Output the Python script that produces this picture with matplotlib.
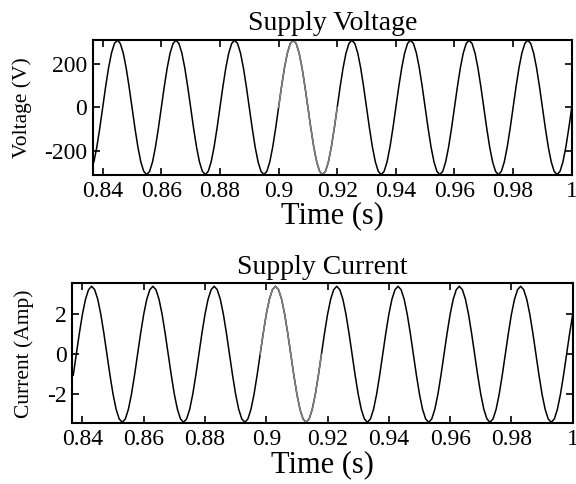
import numpy as np
import matplotlib
matplotlib.use("Agg")
import matplotlib.pyplot as plt

# sample times, 1 ms step from 0.837 s to 1.000 s
time = np.round(np.arange(837, 1001) / 1000.0, 3)

# supply voltage samples (V), one 50 Hz cycle per row
voltage = [
    -252, -183, -96, 0, 96, 183, 252, 296, 311, 296, 252, 183, 96, 0, -96, -183, -252, -296, -311, -296,
    -252, -183, -96, 0, 96, 183, 252, 296, 311, 296, 252, 183, 96, 0, -96, -183, -252, -296, -311, -296,
    -252, -183, -96, 0, 96, 183, 252, 296, 311, 296, 252, 183, 96, 0, -96, -183, -252, -296, -311, -296,
    -252, -183, -96, 0, 96, 183, 252, 296, 311, 296, 252, 183, 96, 0, -96, -183, -252, -296, -311, -296,
    -252, -183, -96, 0, 96, 183, 252, 296, 311, 296, 252, 183, 96, 0, -96, -183, -252, -296, -311, -296,
    -252, -183, -96, 0, 96, 183, 252, 296, 311, 296, 252, 183, 96, 0, -96, -183, -252, -296, -311, -296,
    -252, -183, -96, 0, 96, 183, 252, 296, 311, 296, 252, 183, 96, 0, -96, -183, -252, -296, -311, -296,
    -252, -183, -96, 0, 96, 183, 252, 296, 311, 296, 252, 183, 96, 0, -96, -183, -252, -296, -311, -296,
    -252, -183, -96, 0,
]

# supply current samples (A)
current = [
    -1.05, 0, 1.05, 2.0, 2.75, 3.23, 3.4, 3.23, 2.75, 2.0, 1.05, 0, -1.05, -2.0, -2.75, -3.23, -3.4, -3.23, -2.75, -2.0,
    -1.05, 0, 1.05, 2.0, 2.75, 3.23, 3.4, 3.23, 2.75, 2.0, 1.05, 0, -1.05, -2.0, -2.75, -3.23, -3.4, -3.23, -2.75, -2.0,
    -1.05, 0, 1.05, 2.0, 2.75, 3.23, 3.4, 3.23, 2.75, 2.0, 1.05, 0, -1.05, -2.0, -2.75, -3.23, -3.4, -3.23, -2.75, -2.0,
    -1.05, 0, 1.05, 2.0, 2.75, 3.23, 3.4, 3.23, 2.75, 2.0, 1.05, 0, -1.05, -2.0, -2.75, -3.23, -3.4, -3.23, -2.75, -2.0,
    -1.05, 0, 1.05, 2.0, 2.75, 3.23, 3.4, 3.23, 2.75, 2.0, 1.05, 0, -1.05, -2.0, -2.75, -3.23, -3.4, -3.23, -2.75, -2.0,
    -1.05, 0, 1.05, 2.0, 2.75, 3.23, 3.4, 3.23, 2.75, 2.0, 1.05, 0, -1.05, -2.0, -2.75, -3.23, -3.4, -3.23, -2.75, -2.0,
    -1.05, 0, 1.05, 2.0, 2.75, 3.23, 3.4, 3.23, 2.75, 2.0, 1.05, 0, -1.05, -2.0, -2.75, -3.23, -3.4, -3.23, -2.75, -2.0,
    -1.05, 0, 1.05, 2.0, 2.75, 3.23, 3.4, 3.23, 2.75, 2.0, 1.05, 0, -1.05, -2.0, -2.75, -3.23, -3.4, -3.23, -2.75, -2.0,
    -1.05, 0, 1.05, 2.0,
]

# one highlighted (grey) cycle in each panel
voltage_cycle = (0.900, 0.920)
current_cycle = (0.898, 0.918)

x_ticks = [0.84, 0.86, 0.88, 0.9, 0.92, 0.94, 0.96, 0.98, 1.0]
x_tick_labels = ["0.84", "0.86", "0.88", "0.9", "0.92", "0.94", "0.96", "0.98", "1"]
v_ticks = [-200, 0, 200]
i_ticks = [-2, 0, 2]

plt.rcParams["font.family"] = ["Liberation Serif", "DejaVu Serif"]
plt.rcParams["axes.unicode_minus"] = False

fig = plt.figure(figsize=(5.76, 4.84), dpi=100)
ax1 = fig.add_axes([0.161, 0.6384, 0.8316, 0.2789])
ax2 = fig.add_axes([0.125, 0.1254, 0.8693, 0.2893])


def draw_panel(ax, y, cycle, title, ylabel, yticks, ylim):
    y = np.array(y)
    ax.plot(time, y, color="black", lw=1.1)
    mask = (time >= cycle[0] - 1e-9) & (time <= cycle[1] + 1e-9)
    ax.plot(time[mask], y[mask], color="#808080", lw=1.1)
    ax.set_xlim(0.8366, 1.0)
    ax.set_ylim(*ylim)
    ax.set_xticks(x_ticks)
    ax.set_xticklabels(x_tick_labels)
    ax.set_yticks(yticks)
    ax.tick_params(direction="in", top=True, right=True, length=5, width=1.2,
                   labelsize=17, pad=4)
    for s in ax.spines.values():
        s.set_linewidth(1.5)
    ax.set_title(title, fontsize=20, pad=7)
    ax.set_xlabel("Time (s)", fontsize=22, labelpad=0)
    ax.set_ylabel(ylabel, fontsize=15.5, labelpad=9)


draw_panel(ax1, voltage, voltage_cycle, "Supply Voltage", "Voltage (V)", v_ticks, (-313, 312))
draw_panel(ax2, current, current_cycle, "Supply Current", "Current (Amp)", i_ticks, (-3.45, 3.55))

fig.savefig("out.png", dpi=100)
